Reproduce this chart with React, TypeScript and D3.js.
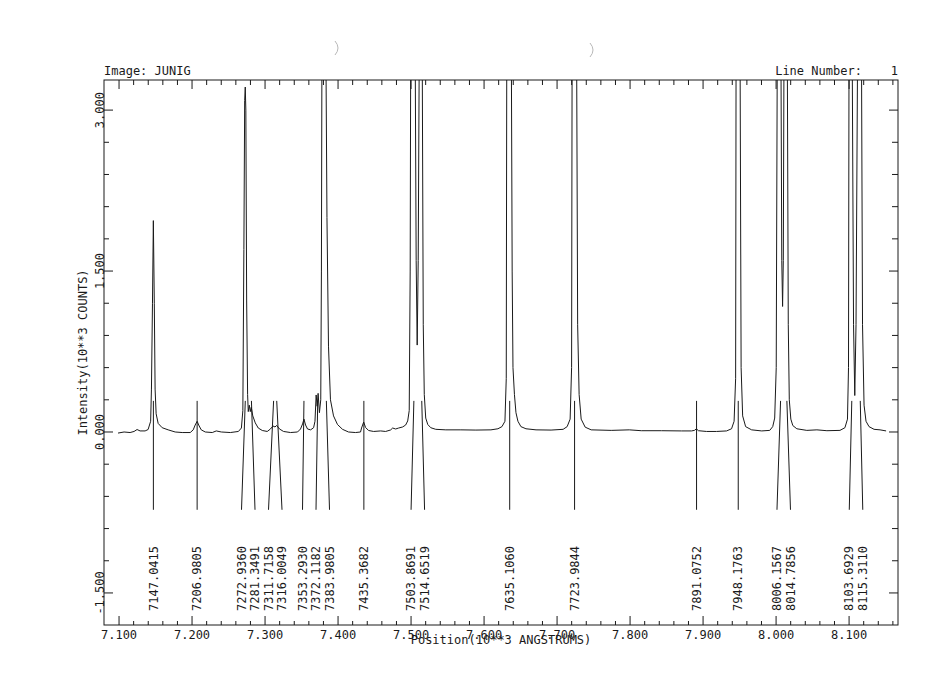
import React from "react";
import * as d3 from "d3";

// ---------- data ----------
const headerLeft = "Image: JUNIG";
const headerRight = "Line Number:    1";
const xTitle = "Position(10**3 ANGSTRUMS)";
const yTitle = "Intensity(10**3 COUNTS)";

// identified lines (Angstroms)
const peakLabels = [
  "7147.0415", "7206.9805", "7272.9360", "7281.3491", "7311.7158", "7316.0049",
  "7353.2930", "7372.1182", "7383.9805", "7435.3682", "7503.8691", "7514.6519",
  "7635.1060", "7723.9844", "7891.0752", "7948.1763", "8006.1567", "8014.7856",
  "8103.6929", "8115.3110",
];

// spectrum: position (10**3 A) and intensity (10**3 counts)
const specX = [
  7.0986, 7.1069, 7.1151, 7.1206, 7.1247, 7.1288, 7.1357, 7.1398, 7.1433, 7.1444,
  7.1458, 7.1470, 7.1483, 7.1494, 7.1508, 7.1536, 7.1591, 7.1673, 7.1769, 7.1865,
  7.1975, 7.2016, 7.2043, 7.2070, 7.2091, 7.2126, 7.2181, 7.2277, 7.2332, 7.2401,
  7.2525, 7.2635, 7.2676, 7.2696, 7.2710, 7.2721, 7.2729, 7.2737, 7.2748, 7.2761,
  7.2770, 7.2784, 7.2798, 7.2811, 7.2832, 7.2866, 7.2907, 7.2962, 7.3030, 7.3074,
  7.3109, 7.3136, 7.3160, 7.3198, 7.3253, 7.3349, 7.3445, 7.3486, 7.3514, 7.3533,
  7.3555, 7.3582, 7.3624, 7.3665, 7.3684, 7.3700, 7.3714, 7.3727, 7.3745, 7.3763,
  7.3772, 7.3779, 7.3807, 7.3834, 7.3848, 7.3869, 7.3896, 7.3938, 7.3992, 7.4061,
  7.4143, 7.4239, 7.4308, 7.4322, 7.4351, 7.4377, 7.4418, 7.4487, 7.4583, 7.4652,
  7.4720, 7.4748, 7.4789, 7.4830, 7.4885, 7.4926, 7.4954, 7.4975, 7.4988, 7.4995,
  7.5022, 7.5057, 7.5070, 7.5084, 7.5098, 7.5112, 7.5139, 7.5153, 7.5167, 7.5181,
  7.5201, 7.5229, 7.5270, 7.5338, 7.5476, 7.5682, 7.5888, 7.6094, 7.6190, 7.6245,
  7.6286, 7.6304, 7.6311, 7.6347, 7.6374, 7.6385, 7.6396, 7.6416, 7.6437, 7.6464,
  7.6505, 7.6574, 7.6712, 7.6918, 7.7083, 7.7138, 7.7179, 7.7199, 7.7206, 7.7238,
  7.7268, 7.7282, 7.7302, 7.7330, 7.7385, 7.7467, 7.7742, 7.7989, 7.8154, 7.8429,
  7.8704, 7.8841, 7.8882, 7.8908, 7.8937, 7.9047, 7.9184, 7.9322, 7.9390, 7.9425,
  7.9446, 7.9452, 7.9480, 7.9507, 7.9521, 7.9542, 7.9583, 7.9665, 7.9803, 7.9913,
  7.9954, 7.9981, 8.0002, 8.0016, 8.0041, 8.0067, 8.0078, 8.0089, 8.0099, 8.0108,
  8.0133, 8.0154, 8.0167, 8.0181, 8.0202, 8.0229, 8.0284, 8.0421, 8.0559, 8.0696,
  8.0875, 8.0943, 8.0978, 8.0992, 8.0999, 8.1022, 8.1043, 8.1061, 8.1078, 8.1095,
  8.1116, 8.1143, 8.1170, 8.1184, 8.1205, 8.1232, 8.1273, 8.1342, 8.1424, 8.1507,
];
const specY = [
  -0.01, 0.0, -0.005, 0.005, 0.023, 0.01, 0.01, 0.023, 0.1, 0.4,
  1.2, 1.97, 1.2, 0.4, 0.17, 0.08, 0.04, 0.02, 0.0, -0.005,
  -0.005, 0.02, 0.065, 0.1, 0.065, 0.02, 0.0, -0.005, 0.01, 0.0,
  -0.005, 0.005, 0.037, 0.2, 1.7, 3.09, 3.215, 3.0, 1.23, 0.35,
  0.19, 0.25, 0.19, 0.23, 0.15, 0.085, 0.037, 0.014, 0.005, 0.028,
  0.056, 0.047, 0.061, 0.028, 0.005, -0.005, 0.0, 0.028, 0.075, 0.12,
  0.065, 0.028, 0.02, 0.04, 0.1, 0.345, 0.24, 0.36, 0.18, 0.3,
  1.5, 3.5, 6.0, 3.5, 2.0, 0.8, 0.3, 0.15, 0.07, 0.025,
  0.0, -0.005, 0.0, 0.037, 0.093, 0.042, 0.014, 0.005, 0.01, 0.005,
  0.019, 0.037, 0.028, 0.037, 0.047, 0.065, 0.103, 0.2, 1.5, 3.5,
  6.0, 3.5, 1.6, 0.81, 1.6, 3.5, 6.0, 3.5, 1.0, 0.35,
  0.13, 0.07, 0.04, 0.025, 0.02, 0.02, 0.018, 0.02, 0.03, 0.05,
  0.1, 0.5, 3.5, 6.0, 3.5, 1.5, 0.6, 0.35, 0.18, 0.1,
  0.05, 0.03, 0.02, 0.018, 0.025, 0.05, 0.12, 0.6, 3.5, 6.0,
  3.5, 1.0, 0.35, 0.12, 0.045, 0.02, 0.015, 0.02, 0.012, 0.012,
  0.01, 0.01, 0.015, 0.03, 0.012, 0.005, 0.005, 0.01, 0.03, 0.1,
  0.5, 3.5, 6.0, 3.5, 0.6, 0.15, 0.05, 0.02, 0.01, 0.015,
  0.05, 0.13, 0.6, 3.5, 6.0, 3.5, 1.6, 1.17, 1.6, 3.5,
  6.0, 3.5, 1.0, 0.3, 0.12, 0.06, 0.03, 0.015, 0.02, 0.012,
  0.015, 0.04, 0.12, 0.6, 3.5, 6.0, 3.5, 1.0, 0.34, 1.0,
  3.5, 6.0, 3.5, 1.0, 0.25, 0.1, 0.05, 0.025, 0.02, 0.01,
];

const X_DOMAIN = [7.0794, 8.167];
const Y_DOMAIN = [-1.7987, 3.2805];
const MARKER_TOP = 0.29;
const MARKER_BOTTOM = -0.725;
const LABEL_START = -1.668;

// ---------- layout ----------
const W = 932;
const H = 693;
const L = 104, R = 898, T = 80, B = 625;
const FONT = "'DejaVu Sans Mono', 'Liberation Mono', monospace";
const INK = "#1a1a1a";

function spread(xs: number[], gap: number): number[] {
  type C = { idx: number[]; left: number };
  const clusters: C[] = [];
  xs.forEach((x, i) => {
    clusters.push({ idx: [i], left: x });
    while (clusters.length > 1) {
      const b = clusters[clusters.length - 1];
      const a = clusters[clusters.length - 2];
      const aRight = a.left + (a.idx.length - 1) * gap;
      if (b.left - aRight >= gap) break;
      const idx = a.idx.concat(b.idx);
      const sum = idx.reduce((s, j, k) => s + xs[j] - k * gap, 0);
      clusters.splice(-2, 2, { idx, left: sum / idx.length });
    }
  });
  const out = new Array(xs.length).fill(0);
  clusters.forEach((c) => c.idx.forEach((j, k) => (out[j] = c.left + k * gap)));
  return out;
}

export default function App() {
  const x = d3.scaleLinear().domain(X_DOMAIN).range([L, R]);
  const y = d3.scaleLinear().domain(Y_DOMAIN).range([B, T]);

  const pts = specX.map((v, i) => [v, specY[i]] as [number, number]);
  const line = d3
    .line<[number, number]>()
    .x((d) => x(d[0]))
    .y((d) => y(d[1]));

  const xTicks = d3.range(354, 409).map((i) => ({ v: i / 50, major: i % 5 === 0 }))
    .filter((t) => x(t.v) > L + 1 && x(t.v) < R - 1);
  const yTicks = d3.range(-6, 11).map((i) => ({ v: i * 0.3, major: i % 5 === 0 }))
    .filter((t) => y(t.v) > T + 1 && y(t.v) < B - 1);

  const peakX = peakLabels.map((s) => x(+s / 1000));
  const labelX = spread(peakX, 13.5);

  return (
    <svg
      width={W}
      height={H}
      style={{ position: "absolute", left: 0, top: 0, background: "#fff" }}
      fontFamily={FONT}
      fontSize={12}
    >
      <rect x={0} y={0} width={W} height={H} fill="#fff" />
      <defs>
        <clipPath id="plotclip">
          <rect x={L} y={T} width={R - L} height={B - T} />
        </clipPath>
      </defs>

      {/* scan marks */}
      <path d="M335,41 Q341,48 335,55" fill="none" stroke="#b8b8b8" strokeWidth={1} />
      <path d="M590,43 Q596,50 590,57" fill="none" stroke="#b8b8b8" strokeWidth={1} />

      {/* header */}
      <text x={L} y={75} fill={INK}>{headerLeft}</text>
      <text x={R} y={75} textAnchor="end" fill={INK} style={{ whiteSpace: "pre" }} xmlSpace="preserve">
        {headerRight}
      </text>

      {/* frame */}
      <rect x={L} y={T} width={R - L} height={B - T} fill="none" stroke={INK} strokeWidth={1} />

      {/* x ticks bottom and top */}
      {xTicks.map((t, i) => (
        <g key={"xt" + i}>
          <line x1={x(t.v)} x2={x(t.v)} y1={B} y2={B - (t.major ? 9 : 4)} stroke={INK} />
          <line x1={x(t.v)} x2={x(t.v)} y1={T} y2={T + (t.major ? 9 : 5)} stroke={INK} />
        </g>
      ))}
      {xTicks.filter((t) => t.major).map((t, i) => (
        <text key={"xl" + i} x={x(t.v)} y={639} textAnchor="middle" fill={INK}>
          {t.v.toFixed(3)}
        </text>
      ))}

      {/* y ticks left and right */}
      {yTicks.map((t, i) => (
        <g key={"yt" + i}>
          <line x1={L} x2={L + (t.major ? 9 : 5)} y1={y(t.v)} y2={y(t.v)} stroke={INK} />
          <line x1={R} x2={R - (t.major ? 9 : 6)} y1={y(t.v)} y2={y(t.v)} stroke={INK} />
        </g>
      ))}
      {yTicks.filter((t) => t.major).map((t, i) => (
        <text
          key={"yl" + i}
          transform={`translate(100,${y(t.v)}) rotate(-90)`}
          textAnchor="middle"
          dy="0.35em"
          fill={INK}
        >
          {t.v.toFixed(3)}
        </text>
      ))}

      {/* axis titles */}
      <text x={(L + R) / 2} y={644} textAnchor="middle" fill={INK}>{xTitle}</text>
      <text
        transform={`translate(83,${(T + B) / 2}) rotate(-90)`}
        textAnchor="middle"
        dy="0.35em"
        fill={INK}
      >
        {yTitle}
      </text>

      {/* spectrum */}
      <path d={line(pts) || ""} fill="none" stroke={INK} strokeWidth={1} clipPath="url(#plotclip)" />

      {/* line markers and labels */}
      {peakLabels.map((s, i) => (
        <g key={"pk" + i}>
          <line
            x1={peakX[i]}
            y1={y(MARKER_TOP)}
            x2={labelX[i]}
            y2={y(MARKER_BOTTOM)}
            stroke={INK}
            strokeWidth={1}
          />
          <text
            transform={`translate(${labelX[i]},${y(LABEL_START)}) rotate(-90)`}
            textAnchor="start"
            dy="0.35em"
            fill={INK}
          >
            {s}
          </text>
        </g>
      ))}
    </svg>
  );
}
